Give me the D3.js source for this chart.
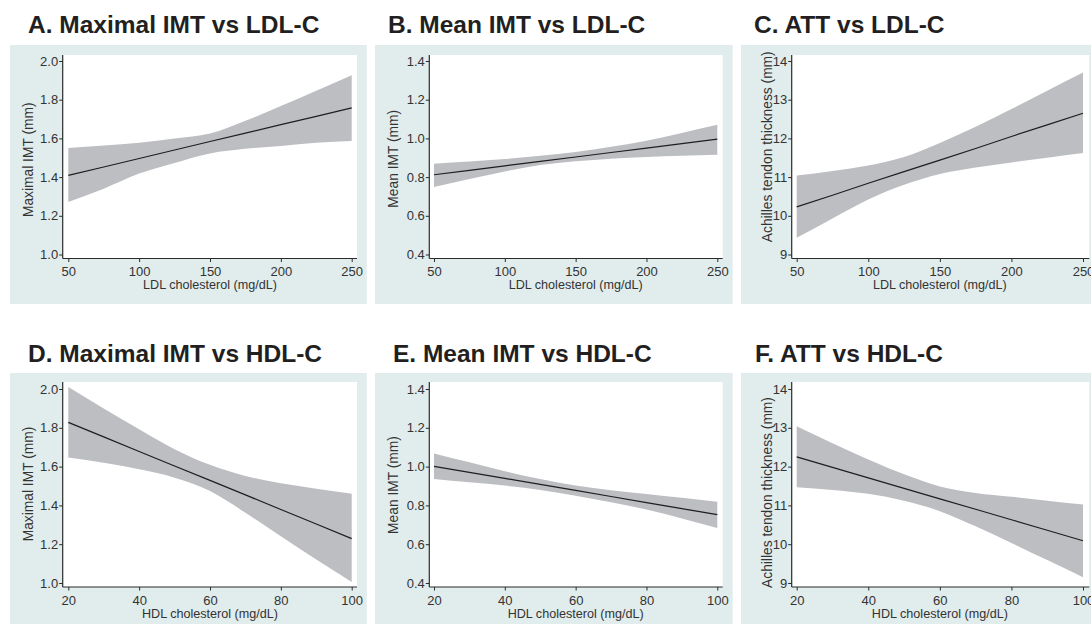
<!DOCTYPE html>
<html lang="en">
<head>
<meta charset="UTF-8">
<title>IMT and ATT vs cholesterol</title>
<script src="https://cdn.jsdelivr.net/npm/d3@7"></script>
<style>
body {
	margin: 0;
	background: #fff;
	font-family: "Liberation Sans", Arial, sans-serif;
}
.panel-bg { fill: #e1ecec; }
.plot-bg { fill: #fff; }
.band { fill: #bdbec2; stroke: none; }
.fit { fill: none; stroke: #1e1e1e; stroke-width: 1.2px; }
.axis-line { stroke: #2b2b2b; stroke-width: 1.2px; }
.axis text { font-size: 13px; fill: #333; font-family: "Liberation Sans", Arial, sans-serif; }
.axis line { stroke: #2b2b2b; }
.title { font-size: 24.5px; font-weight: bold; fill: #231f20; }
.xlab { font-size: 12.6px; fill: #333; }
.ylab { font-size: 13.8px; fill: #333; }
</style>
</head>
<body>
<svg width="1091" height="624"></svg>
<script>
// x grids
var ldlX = [50, 75, 100, 125, 150, 175, 200, 225, 250];
var hdlX = [20, 30, 40, 50, 60, 70, 80, 90, 100];

// A. Maximal IMT vs LDL-C
var aFit = [1.409, 1.452, 1.496, 1.540, 1.584, 1.627, 1.671, 1.714, 1.758];
var aHi  = [1.551, 1.563, 1.577, 1.599, 1.625, 1.691, 1.767, 1.846, 1.927];
var aLo  = [1.271, 1.340, 1.418, 1.473, 1.522, 1.546, 1.561, 1.577, 1.587];
// B. Mean IMT vs LDL-C
var bFit = [0.812, 0.835, 0.858, 0.881, 0.904, 0.927, 0.950, 0.973, 0.996];
var bHi  = [0.869, 0.880, 0.893, 0.910, 0.930, 0.957, 0.988, 1.028, 1.070];
var bLo  = [0.749, 0.790, 0.829, 0.862, 0.882, 0.895, 0.904, 0.910, 0.915];
// C. ATT vs LDL-C
var cFit = [10.23, 10.53, 10.84, 11.14, 11.44, 11.74, 12.05, 12.35, 12.65];
var cHi  = [11.04, 11.16, 11.30, 11.52, 11.88, 12.30, 12.76, 13.23, 13.70];
var cLo  = [9.43, 9.93, 10.42, 10.80, 11.08, 11.25, 11.38, 11.50, 11.62];
// D. Maximal IMT vs HDL-C
var dFit = [1.828, 1.753, 1.678, 1.603, 1.529, 1.454, 1.379, 1.304, 1.229];
var dHi  = [2.010, 1.900, 1.793, 1.690, 1.609, 1.552, 1.514, 1.486, 1.460];
var dLo  = [1.647, 1.620, 1.586, 1.543, 1.474, 1.362, 1.241, 1.121, 1.005];
// E. Mean IMT vs HDL-C
var eFit = [1.001, 0.970, 0.939, 0.908, 0.877, 0.846, 0.814, 0.783, 0.752];
var eHi  = [1.068, 1.022, 0.976, 0.936, 0.902, 0.878, 0.859, 0.839, 0.819];
var eLo  = [0.936, 0.919, 0.902, 0.880, 0.850, 0.816, 0.779, 0.733, 0.684];
// F. ATT vs HDL-C
var fFit = [12.25, 11.98, 11.71, 11.44, 11.17, 10.90, 10.63, 10.36, 10.09];
var fHi  = [13.04, 12.60, 12.18, 11.80, 11.49, 11.32, 11.22, 11.12, 11.02];
var fLo  = [11.47, 11.40, 11.30, 11.12, 10.85, 10.46, 10.03, 9.59, 9.15];

// tick labels
var ldlTicks = [50, 100, 150, 200, 250];
var hdlTicks = [20, 40, 60, 80, 100];
var imtMaxTicks = [1.0, 1.2, 1.4, 1.6, 1.8, 2.0];
var imtMeanTicks = [0.4, 0.6, 0.8, 1.0, 1.2, 1.4];
var attTicks = [9, 10, 11, 12, 13, 14];

var titles = ["A. Maximal IMT vs LDL-C", "B. Mean IMT vs LDL-C", "C. ATT vs LDL-C",
	"D. Maximal IMT vs HDL-C", "E. Mean IMT vs HDL-C", "F. ATT vs HDL-C"];
var xLabels = ["LDL cholesterol (mg/dL)", "HDL cholesterol (mg/dL)"];
var yLabels = ["Maximal IMT (mm)", "Mean IMT (mm)", "Achilles tendon thickness (mm)"];

// layout
var cols = [
	{bgL: 10, bgR: 366.7, ax: 62.7, x0: 68.3, x1: 351.7, pr: 357, yOff: 30},
	{bgL: 375, bgR: 732.7, ax: 429.3, x0: 434, x1: 717.3, pr: 722.7, yOff: 31},
	{bgL: 741, bgR: 1100, ax: 791.7, x0: 796.7, x1: 1083, pr: 1089.3, yOff: 20}
];
var rows = [
	{bgT: 45, bgB: 304, pt: 55, y0: 61, y1: 254.5, axY: 258.5, tb: 33},
	{bgT: 373, bgB: 640, pt: 382, y0: 389, y1: 583, axY: 587, tb: 362}
];
var titleX = [28, 388, 754, 28, 393, 755];
var yLabShift = [2, 1, -11, -2, -1, 6.5];

var panels = [
	{x: ldlX, fit: aFit, hi: aHi, lo: aLo, xt: ldlTicks, yt: imtMaxTicks, fmt: ".1f"},
	{x: ldlX, fit: bFit, hi: bHi, lo: bLo, xt: ldlTicks, yt: imtMeanTicks, fmt: ".1f"},
	{x: ldlX, fit: cFit, hi: cHi, lo: cLo, xt: ldlTicks, yt: attTicks, fmt: "d"},
	{x: hdlX, fit: dFit, hi: dHi, lo: dLo, xt: hdlTicks, yt: imtMaxTicks, fmt: ".1f"},
	{x: hdlX, fit: eFit, hi: eHi, lo: eLo, xt: hdlTicks, yt: imtMeanTicks, fmt: ".1f"},
	{x: hdlX, fit: fFit, hi: fHi, lo: fLo, xt: hdlTicks, yt: attTicks, fmt: "d"}
];

var svg = d3.select("svg");

panels.forEach(function(p, i) {
	var c = cols[i % 3], r = rows[Math.floor(i / 3)];
	var g = svg.append("g");

	g.append("rect").attr("class", "panel-bg")
		.attr("x", c.bgL).attr("y", r.bgT)
		.attr("width", c.bgR - c.bgL).attr("height", r.bgB - r.bgT);
	g.append("rect").attr("class", "plot-bg")
		.attr("x", c.ax).attr("y", r.pt)
		.attr("width", c.pr - c.ax).attr("height", r.axY - r.pt);

	g.append("text").attr("class", "title")
		.attr("x", titleX[i]).attr("y", r.tb)
		.text(titles[i]);

	var x = d3.scaleLinear().domain(d3.extent(p.xt)).range([c.x0, c.x1]);
	var y = d3.scaleLinear().domain(d3.extent(p.yt)).range([r.y1, r.y0]);

	var data = p.x.map(function(v, k) {
		return {x: v, fit: p.fit[k], hi: p.hi[k], lo: p.lo[k]};
	});

	var area = d3.area()
		.x(function(d) { return x(d.x); })
		.y0(function(d) { return y(d.lo); })
		.y1(function(d) { return y(d.hi); })
		.curve(d3.curveMonotoneX);
	var line = d3.line()
		.x(function(d) { return x(d.x); })
		.y(function(d) { return y(d.fit); });

	g.append("path").datum(data).attr("class", "band").attr("d", area);
	g.append("path").datum(data).attr("class", "fit").attr("d", line);

	g.append("g")
		.attr("class", "axis")
		.attr("transform", "translate(" + c.ax + ",0)")
		.call(d3.axisLeft(y).tickValues(p.yt).tickFormat(d3.format(p.fmt))
			.tickSize(3.5).tickSizeOuter(0).tickPadding(1))
		.select(".domain").remove();
	g.append("g")
		.attr("class", "axis")
		.attr("transform", "translate(0," + r.axY + ")")
		.call(d3.axisBottom(x).tickValues(p.xt).tickSize(3.5).tickSizeOuter(0).tickPadding(5))
		.select(".domain").remove();

	g.append("line").attr("class", "axis-line")
		.attr("x1", c.ax).attr("x2", c.ax).attr("y1", r.pt).attr("y2", r.axY);
	g.append("line").attr("class", "axis-line")
		.attr("x1", c.ax).attr("x2", c.pr).attr("y1", r.axY).attr("y2", r.axY);

	g.append("text").attr("class", "xlab")
		.attr("x", (c.x0 + c.x1) / 2).attr("y", r.axY + 30.5)
		.attr("text-anchor", "middle")
		.text(xLabels[Math.floor(i / 3)]);

	var yc = (r.y0 + r.y1) / 2 + yLabShift[i];
	g.append("text").attr("class", "ylab")
		.attr("transform", "translate(" + (c.ax - c.yOff) + "," + yc + ") rotate(-90)")
		.attr("text-anchor", "middle")
		.text(yLabels[i % 3]);
});
</script>
</body>
</html>
